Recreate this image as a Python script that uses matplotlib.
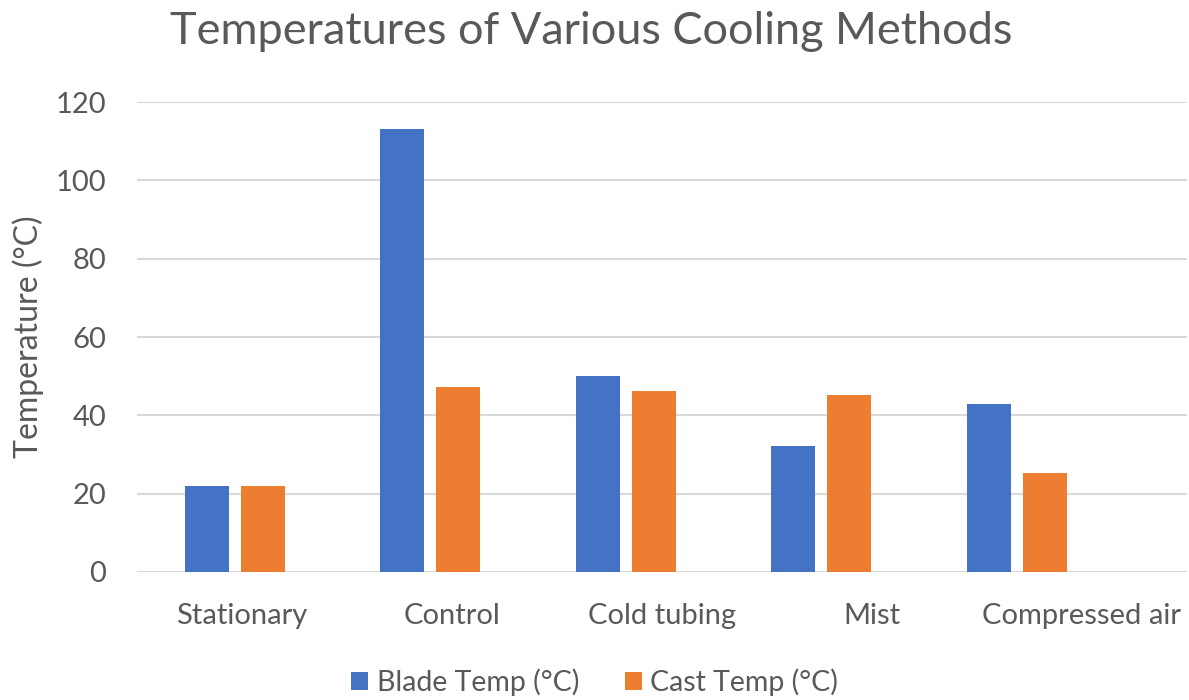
import matplotlib
matplotlib.use("Agg")
import matplotlib.pyplot as plt
import numpy as np

categories = ["Stationary", "Control", "Cold tubing", "Mist", "Compressed air"]
blade_temp = [22.0, 113.2, 50.0, 32.2, 42.9]
cast_temp = [22.0, 47.2, 46.3, 45.3, 25.2]
series_names = ["Blade Temp (°C)", "Cast Temp (°C)"]
y_ticks = [0, 20, 40, 60, 80, 100, 120]

plt.rcParams["font.family"] = ["Lato", "DejaVu Sans"]
text_color = "#595959"
grid_color = "#D9D9D9"
blue = "#4472C4"
orange = "#ED7D31"

fig = plt.figure(figsize=(11.89, 7.0), dpi=100)
ax = fig.add_axes([137 / 1189, 128 / 700, 1050 / 1189, 470 / 700])

x = np.arange(len(categories))
bar_w = 0.225
offset = 0.143
ax.bar(x - offset, blade_temp, width=bar_w, color=blue, label=series_names[0], zorder=3)
ax.bar(x + offset, cast_temp, width=bar_w, color=orange, label=series_names[1], zorder=3)

x_min, x_max = -0.5, 4.87
ax.set_xlim(x_min, x_max)
ax.set_ylim(0, 120)
ax.set_yticks(y_ticks)

# category labels sit in equal slots across the full axis width
slot = (x_max - x_min) / len(categories)
label_pos = x_min + (np.arange(len(categories)) + 0.5) * slot
ax.set_xticks(label_pos)
ax.set_xticklabels(categories)

ax.tick_params(axis="both", length=0, labelsize=21, colors=text_color)
ax.tick_params(axis="x", pad=22)
ax.tick_params(axis="y", pad=22)
ax.yaxis.grid(True, color=grid_color, linewidth=1.5, zorder=0)
for s in ax.spines.values():
    s.set_visible(False)

ax.set_ylabel("Temperature (°C)", fontsize=23, color=text_color, va="center")
ax.yaxis.set_label_coords(-0.104, 0.50)

fig.text(0.497, 0.955, "Temperatures of Various Cooling Methods",
         ha="center", va="center", fontsize=32.5, color=text_color)

leg = fig.legend(loc="center", bbox_to_anchor=(0.5, 0.025), ncol=2, frameon=False,
                 fontsize=20.5, handlelength=0.6, handleheight=0.6,
                 handletextpad=0.3, columnspacing=1.6)
for t in leg.get_texts():
    t.set_color(text_color)

fig.savefig("out.png", dpi=100, facecolor="white")
